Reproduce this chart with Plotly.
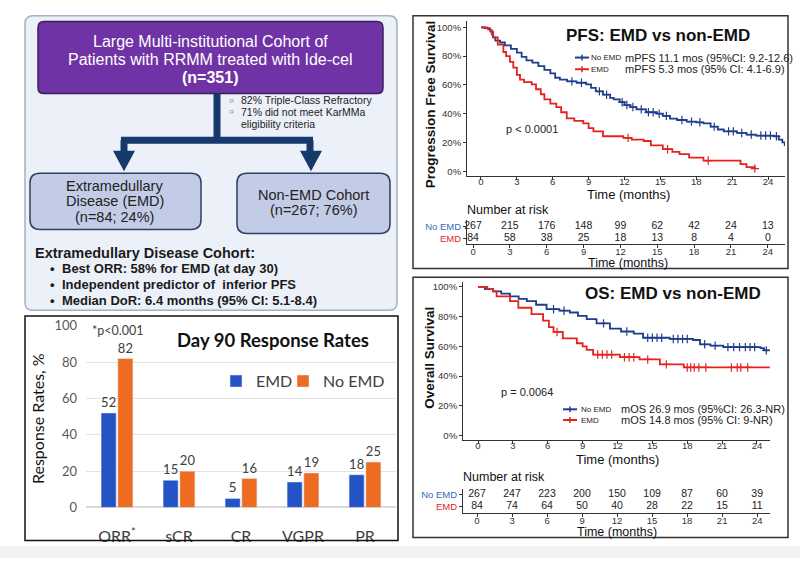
import plotly.graph_objects as go

# ---------------- data ----------------
bar_categories = ["ORR*", "sCR", "CR", "VGPR", "PR"]
bar_ticktext = ["ORR<sup>*</sup>", "sCR", "CR", "VGPR", "PR"]
bar_emd = [52, 15, 5, 14, 18]
bar_no_emd = [82, 20, 16, 19, 25]

pfs_noemd_t = [0, 0.3, 0.6, 0.8, 1.0, 1.2, 1.6, 2.0, 2.5, 3.0, 3.4, 3.8, 4.3, 4.8, 5.3, 5.8, 6.2, 6.6, 7.2, 8.0,
               8.8, 9.2, 9.6, 10.2, 10.8, 11.1, 11.6, 12.0, 12.5, 13.0, 13.8, 14.7, 15.2, 15.8, 16.4, 17.2, 18.0,
               18.6, 19.2, 19.8, 20.3, 21.4, 22.2, 23.0, 24.5, 24.9, 25.2, 25.4]
pfs_noemd_s = [100, 99.5, 98.6, 97, 93, 90.8, 89.5, 87.5, 85, 82.5, 79.5, 77, 75.5, 73, 70.5, 68, 65, 63.7, 62.5,
               61.5, 60.4, 58, 55.5, 53.2, 51, 50, 48, 46, 44.6, 43, 41, 40, 38.5, 36.5, 35.6, 34.5, 34, 33.3, 31,
               29, 27.7, 26.6, 25.5, 24.8, 24.3, 22, 20, 17.6]
pfs_noemd_cens_t = [7.6, 8.4, 9.9, 10.5, 11.8, 12.2, 12.7, 13.4, 14.0, 14.4, 14.9, 15.5, 16.8, 17.6, 18.3, 19.5,
                    20.7, 21.1, 21.8, 22.6, 23.4, 23.8, 24.2, 24.7]
pfs_noemd_cens_s = [62.5, 61.5, 55.5, 53.2, 48, 46, 44.6, 43, 41, 41, 40, 38.5, 35.6, 34.5, 34, 31,
                    27.7, 27.7, 26.6, 25.5, 24.8, 24.8, 24.8, 24.3]

pfs_emd_t = [0, 0.5, 0.75, 0.9, 1.03, 1.4, 1.87, 2.1, 2.42, 2.7, 3.0, 3.26, 3.6, 4.24, 4.6, 5.0, 5.3, 5.8, 6.3,
             6.7, 7.17, 7.8, 8.55, 9.0, 9.4, 10.2, 11.9, 12.6, 13.6, 14.2, 15.2, 16.0, 16.6, 17.4, 18.6, 21.7,
             22.2, 22.9]
pfs_emd_s = [100, 99.5, 98, 95, 93, 88, 82.9, 80, 76, 72, 67, 63.7, 62, 60.4, 57, 53.5, 50, 47, 44.6, 41, 36.7,
             35, 33.3, 30, 27.7, 24.3, 23.2, 22, 21, 18, 15.3, 13.5, 11.9, 9.5, 7.4, 5, 2.9, 1.8]
pfs_emd_cens_t = [12.3, 15.6, 19.0, 22.9]
pfs_emd_cens_s = [23.2, 15.3, 7.4, 1.8]

os_noemd_t = [0, 0.6, 1.3, 2.0, 2.75, 3.5, 4.2, 5.0, 5.9, 7.0, 7.9, 8.6, 9.35, 10.2, 11.35, 12.3, 13.4, 14.2,
              16.5, 18.5, 19.1, 20.0, 21.1, 24.3, 24.6, 25.1]
os_noemd_s = [100, 98.5, 97, 95.5, 93.7, 92, 90.4, 88, 85, 84, 82.8, 80.5, 78.4, 75.5, 71.9, 70, 68.6, 65.8,
              65, 64.3, 61.4, 60.5, 59.5, 58.8, 57.3, 57.3]
os_noemd_cens_t = [6.5, 7.4, 10.8, 12.8, 14.6, 15.0, 15.4, 15.8, 16.8, 17.2, 17.6, 18.0, 19.5, 20.4, 21.5, 22.0,
                   22.5, 23.0, 23.4, 23.8, 24.8]
os_noemd_cens_s = [85, 84, 75.5, 70, 65.8, 65.8, 65.8, 65.8, 65, 65, 65, 65, 61.4, 60.5, 59.5, 59.5,
                   59.5, 59.5, 59.5, 59.5, 57.3]

os_emd_t = [0, 0.8, 1.3, 1.6, 2.75, 3.47, 4.6, 5.6, 6.1, 6.5, 7.3, 8.5, 9.0, 9.35, 9.9, 12.2, 13.9, 15.65,
            17.7, 25.1]
os_emd_s = [100, 98.5, 97, 93.7, 90.4, 86, 81.7, 77.3, 73, 69.7, 65.4, 62.1, 60, 57.7, 54.5, 52.7, 51.2, 47.9,
            45.8, 45.8]
os_emd_cens_t = [6.8, 10.3, 10.7, 11.1, 11.5, 12.6, 13.0, 13.4, 14.6, 16.2, 18.0, 18.3, 18.6, 19.0, 19.6, 21.8,
                 22.3, 22.6, 23.2]
os_emd_cens_s = [69.7, 54.5, 54.5, 54.5, 54.5, 52.7, 52.7, 52.7, 51.2, 47.9, 45.8, 45.8, 45.8, 45.8, 45.8, 45.8,
                 45.8, 45.8, 45.8]

risk_times = [0, 3, 6, 9, 12, 15, 18, 21, 24]
pfs_risk_noemd = [267, 215, 176, 148, 99, 62, 42, 24, 13]
pfs_risk_emd = [84, 58, 38, 25, 18, 13, 8, 4, 0]
os_risk_noemd = [267, 247, 223, 200, 150, 109, 87, 60, 39]
os_risk_emd = [84, 74, 64, 50, 40, 28, 22, 15, 11]

pct_vals = [0, 20, 40, 60, 80, 100]
pct_text = ["0%", "20%", "40%", "60%", "80%", "100%"]

# ---------------- helpers ----------------
W, H = 800, 566
ARIAL = "Liberation Sans, Arial, sans-serif"
LATO = "Lato, Carlito, sans-serif"
BLUE_BAR = "#2453c5"
ORANGE_BAR = "#ee6b22"
KM_BLUE = "#1f3d8a"
KM_RED = "#e3231f"
NAVY = "#15396a"


def X(p):
    return p / W


def Y(p):
    return 1 - p / H


shapes = []
ann = []


def rrect(x0, y0, x1, y1, r, fill, line, lw, layer="below"):
    rx, ry = r / W, r / H
    a, b, c, d = X(x0), Y(y0), X(x1), Y(y1)
    path = (f"M{a+rx},{b} L{c-rx},{b} Q{c},{b} {c},{b-ry} L{c},{d+ry} Q{c},{d} {c-rx},{d} "
            f"L{a+rx},{d} Q{a},{d} {a},{d+ry} L{a},{b-ry} Q{a},{b} {a+rx},{b} Z")
    shapes.append(dict(type="path", xref="paper", yref="paper", path=path, fillcolor=fill,
                       line=dict(color=line, width=lw), layer=layer))


def rect(x0, y0, x1, y1, fill=None, line=None, lw=0, layer="below"):
    shapes.append(dict(type="rect", xref="paper", yref="paper", x0=X(x0), x1=X(x1), y0=Y(y1), y1=Y(y0),
                       fillcolor=fill if fill else "rgba(0,0,0,0)",
                       line=dict(color=line if line else "rgba(0,0,0,0)", width=lw), layer=layer))


def seg(x0, y0, x1, y1, color, w):
    shapes.append(dict(type="line", xref="paper", yref="paper", x0=X(x0), y0=Y(y0), x1=X(x1), y1=Y(y1),
                       line=dict(color=color, width=w)))


def tri(cx, top, bottom, half, color):
    path = f"M{X(cx-half)},{Y(top)} L{X(cx+half)},{Y(top)} L{X(cx)},{Y(bottom)} Z"
    shapes.append(dict(type="path", xref="paper", yref="paper", path=path, fillcolor=color,
                       line=dict(color=color, width=0)))


def txt(x, y, s, size, color="#1a1a1a", bold=False, xanchor="center", family=ARIAL, angle=0):
    ann.append(dict(x=X(x), y=Y(y), xref="paper", yref="paper", text=f"<b>{s}</b>" if bold else s,
                    showarrow=False, font=dict(size=size, color=color, family=family),
                    xanchor=xanchor, yanchor="middle", textangle=angle, borderpad=0))


def legmark(x0, x1, y, color):
    seg(x0, y, x1, y, color, 2)
    cx = (x0 + x1) / 2
    seg(cx, y - 3, cx, y + 3, color, 1.5)


# ---------------- background / flowchart ----------------
rect(0, 554, 800, 566, fill="#f2f2f2")
rrect(25, 8, 397, 311, 8, "#ecf1f9", "#a3b1c6", 1.5)
rrect(38, 14, 383, 88, 6, "#7033a6", "#3a1f5c", 1.5)
txt(210, 34, "Large Multi-institutional Cohort of", 16, "white")
txt(210, 53, "Patients with RRMM treated with Ide-cel", 16, "white")
txt(210, 72, "(n=351)", 16, "white", bold=True)

seg(217, 88, 217, 139, NAVY, 7)
seg(121, 136, 313, 136, NAVY, 7)
seg(124, 136, 124, 150, NAVY, 7)
seg(310, 136, 310, 150, NAVY, 7)
tri(124, 147, 168, 11, NAVY)
tri(311, 147, 168, 11, NAVY)

txt(228, 95, "○", 8, "#333", xanchor="left")
txt(240, 95, "82% Triple-Class Refractory", 10.5, "#222", xanchor="left")
txt(228, 107, "○", 8, "#333", xanchor="left")
txt(240, 107, "71% did not meet KarMMa", 10.5, "#222", xanchor="left")
txt(240, 119, "eligibility criteria", 10.5, "#222", xanchor="left")

rrect(30, 170, 201, 228, 10, "#c3cce6", "#2f3f5f", 1.5, layer="above")
rrect(237, 170, 390, 232, 10, "#c3cce6", "#2f3f5f", 1.5, layer="above")
txt(115, 183, "Extramedullary", 14.5, "#222")
txt(115, 199, "Disease (EMD)", 14.5, "#222")
txt(115, 215, "(n=84; 24%)", 14.5, "#222")
txt(313, 192, "Non-EMD Cohort", 14.5, "#222")
txt(313, 208, "(n=267; 76%)", 14.5, "#222")

txt(34, 252, "Extramedullary Disease Cohort:", 14.5, "#1a1a1a", bold=True, xanchor="left")
for yy, s in [(268, "Best ORR: 58% for EMD (at day 30)"),
              (285, "Independent predictor of  inferior PFS"),
              (301, "Median DoR: 6.4 months (95% CI: 5.1-8.4)")]:
    txt(49, yy, "•", 13, "#1a1a1a", bold=True, xanchor="left")
    txt(61, yy, s, 13, "#1a1a1a", bold=True, xanchor="left")

# ---------------- panel borders ----------------
rect(25, 317, 398, 548, line="#111", lw=1.5, layer="above")
rect(413, 8, 788, 268, line="#333", lw=1.5, layer="above")
rect(413, 277, 788, 545, line="#333", lw=1.5, layer="above")

# ---------------- bar chart ----------------
fig = go.Figure()
fig.add_trace(go.Bar(x=bar_categories, y=bar_emd, name="EMD", marker_color=BLUE_BAR, text=bar_emd,
                     textposition="outside", textfont=dict(size=14, color="#404040", family=LATO),
                     cliponaxis=False, xaxis="x", yaxis="y", legend="legend"))
fig.add_trace(go.Bar(x=bar_categories, y=bar_no_emd, name="No EMD", marker_color=ORANGE_BAR, text=bar_no_emd,
                     textposition="outside", textfont=dict(size=14, color="#404040", family=LATO),
                     cliponaxis=False, xaxis="x", yaxis="y", legend="legend2"))

txt(273, 342, "Day 90 Response Rates", 18.5, "#111", bold=True, family=LATO)
txt(118, 332, "*p&lt;0.001", 12.5, "#404040", family=LATO)
txt(37, 423, "Response Rates, %", 16, "#111", family=LATO, angle=-90)


# ---------------- KM curves ----------------
def km(t, s, color, xa, ya):
    fig.add_trace(go.Scatter(x=t, y=s, mode="lines", line=dict(color=color, width=1.8, shape="hv"),
                             showlegend=False, xaxis=xa, yaxis=ya, hoverinfo="skip"))


def cens(t, s, color, xa, ya):
    fig.add_trace(go.Scatter(x=t, y=s, mode="markers",
                             marker=dict(symbol="cross-thin", size=6, line=dict(color=color, width=1.2)),
                             showlegend=False, xaxis=xa, yaxis=ya, hoverinfo="skip"))


km(pfs_noemd_t, pfs_noemd_s, KM_BLUE, "x2", "y2")
km(pfs_emd_t, pfs_emd_s, KM_RED, "x2", "y2")
cens(pfs_noemd_cens_t, pfs_noemd_cens_s, KM_BLUE, "x2", "y2")
cens(pfs_emd_cens_t, pfs_emd_cens_s, KM_RED, "x2", "y2")
km(os_noemd_t, os_noemd_s, KM_BLUE, "x3", "y3")
km(os_emd_t, os_emd_s, KM_RED, "x3", "y3")
cens(os_noemd_cens_t, os_noemd_cens_s, KM_BLUE, "x3", "y3")
cens(os_emd_cens_t, os_emd_cens_s, KM_RED, "x3", "y3")

# risk tables
for xa, ya, top, bottom in [("x4", "y4", pfs_risk_noemd, pfs_risk_emd), ("x5", "y5", os_risk_noemd, os_risk_emd)]:
    fig.add_trace(go.Scatter(x=risk_times, y=[1] * len(risk_times), mode="text", text=[str(v) for v in top],
                             textfont=dict(size=10.5, color="#222", family=ARIAL), showlegend=False,
                             xaxis=xa, yaxis=ya, hoverinfo="skip", cliponaxis=False))
    fig.add_trace(go.Scatter(x=risk_times, y=[0] * len(risk_times), mode="text", text=[str(v) for v in bottom],
                             textfont=dict(size=10.5, color="#222", family=ARIAL), showlegend=False,
                             xaxis=xa, yaxis=ya, hoverinfo="skip", cliponaxis=False))

# KM annotations
txt(658, 28, "PFS: EMD vs non-EMD", 17, "#111", bold=True)
legmark(575, 589, 51, KM_BLUE)
legmark(575, 589, 63, KM_RED)
txt(590, 51, "No EMD", 8, "#222", xanchor="left")
txt(590, 63, "EMD", 8, "#222", xanchor="left")
txt(624, 51, "mPFS 11.1 mos (95%CI: 9.2-12.6)", 11, "#222", xanchor="left")
txt(624, 63, "mPFS 5.3 mos (95% CI: 4.1-6.9)", 11, "#222", xanchor="left")
txt(505, 125, "p &lt; 0.0001", 11, "#222", xanchor="left")
txt(430, 100, "Progression Free Survival", 13.5, "#111", bold=True, angle=-90)
txt(628, 192, "Time (months)", 13, "#111")
txt(466, 208, "Number at risk", 12.5, "#111", xanchor="left")
txt(628, 262, "Time (months)", 12.5, "#111")

txt(673, 294, "OS: EMD vs non-EMD", 17, "#111", bold=True)
legmark(563, 577, 413, KM_BLUE)
legmark(563, 577, 424, KM_RED)
txt(580, 413, "No EMD", 8, "#222", xanchor="left")
txt(580, 424, "EMD", 8, "#222", xanchor="left")
txt(620, 413, "mOS 26.9 mos (95%CI: 26.3-NR)", 11, "#222", xanchor="left")
txt(620, 424, "mOS 14.8 mos (95% CI: 9-NR)", 11, "#222", xanchor="left")
txt(500, 395, "p = 0.0064", 11, "#222", xanchor="left")
txt(430, 360, "Overall Survival", 13.5, "#111", bold=True, angle=-90)
txt(617, 465, "Time (months)", 13, "#111")
txt(462, 483, "Number at risk", 12.5, "#111", xanchor="left")
txt(617, 539.5, "Time (months)", 12.5, "#111")

# ---------------- axes ----------------
km_ax = dict(showline=True, linecolor="#333", linewidth=1, ticks="outside", ticklen=3, tickcolor="#333",
             tickwidth=1, showgrid=False, zeroline=False, tickfont=dict(size=9.5, color="#333", family=ARIAL),
             fixedrange=True)
months_main = dict(tickmode="array", tickvals=risk_times, ticklabelstandoff=-7)
months_risk = dict(tickmode="array", tickvals=risk_times, ticklabelstandoff=-5)
pct = dict(tickmode="array", tickvals=pct_vals, ticktext=pct_text)
risk_y_text = ["<span style='color:#e3231f'>EMD</span>", "<span style='color:#2f6db5'>No EMD</span>"]

leg_common = dict(yanchor="middle", xanchor="left", orientation="h",
                  font=dict(size=16, family=LATO, color="#404040"), bgcolor="rgba(0,0,0,0)", itemwidth=30)

layout = dict(
    width=W, height=H, autosize=False, margin=dict(l=0, r=0, t=0, b=0),
    paper_bgcolor="white", plot_bgcolor="rgba(0,0,0,0)",
    barmode="group", bargap=0.46, bargroupgap=0.1,
    shapes=shapes, annotations=ann,
    legend=dict(x=X(216), y=Y(384), **leg_common),
    legend2=dict(x=X(283), y=Y(384), **leg_common),
    xaxis=dict(domain=[X(86), X(396)], anchor="y", tickmode="array", tickvals=bar_categories,
               ticktext=bar_ticktext, tickfont=dict(size=16, color="#404040", family=LATO),
               showline=False, ticks="", ticklabelstandoff=18, fixedrange=True),
    yaxis=dict(domain=[Y(514), Y(327)], anchor="x", range=[0, 100], tickvals=[0, 20, 40, 60, 80, 100],
               tickfont=dict(size=13, color="#595959", family=LATO), showgrid=True, gridcolor="#e3e3e3",
               gridwidth=1, zeroline=True, zerolinecolor="#d9d9d9", ticks="", ticklabelstandoff=8,
               fixedrange=True),
    xaxis2=dict(domain=[X(467), X(785)], anchor="y2", range=[-1.17, 25.42], **months_main, **km_ax),
    yaxis2=dict(domain=[Y(173), Y(13)], anchor="x2", range=[-3.4, 104.7], **pct, **km_ax),
    xaxis3=dict(domain=[X(463), X(770)], anchor="y3", range=[-1.29, 25.12], **months_main, **km_ax),
    yaxis3=dict(domain=[Y(445), Y(282)], anchor="x3", range=[-3.3, 103.3], **pct, **km_ax),
    xaxis4=dict(domain=[X(467), X(785)], anchor="y4", range=[-0.49, 25.4], **months_risk, **km_ax),
    yaxis4=dict(domain=[Y(243), Y(218)], anchor="x4", range=[-0.5, 1.58], tickmode="array", tickvals=[0, 1],
                ticktext=risk_y_text, **km_ax),
    xaxis5=dict(domain=[X(463), X(770)], anchor="y5", range=[-1.2, 25.1], **months_risk, **km_ax),
    yaxis5=dict(domain=[Y(520), Y(495)], anchor="x5", range=[-0.58, 1.5], tickmode="array", tickvals=[0, 1],
                ticktext=risk_y_text, **km_ax),
)
fig.update_layout(**layout)
fig.write_html("out.html")
